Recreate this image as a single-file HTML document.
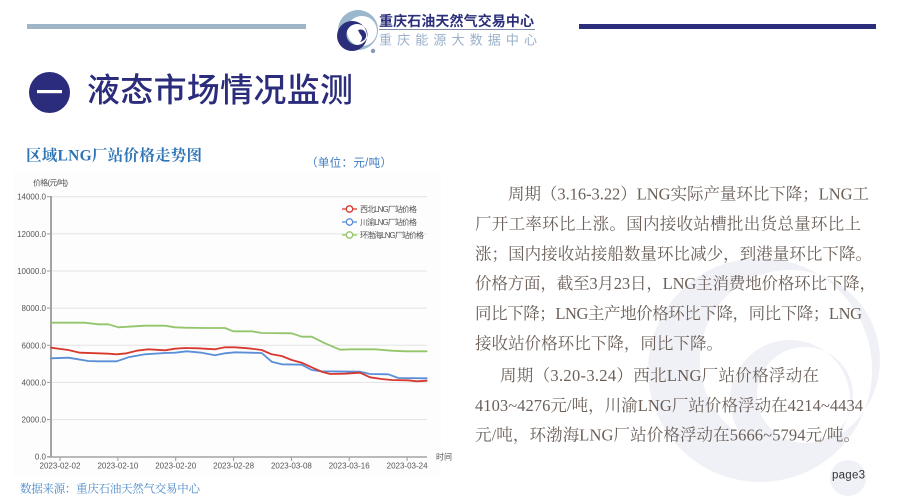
<!DOCTYPE html>
<html>
<head>
<meta charset="utf-8">
<style>
html,body{margin:0;padding:0;background:#fff;}
body{width:900px;height:500px;overflow:hidden;}
svg{display:block;}
.cjk{font-family:"Liberation Sans","Noto Sans CJK SC",sans-serif;}
.ser{font-family:"Liberation Serif","Noto Serif CJK SC",serif;}
.ax{font-family:"Liberation Sans","Noto Sans CJK SC",sans-serif;font-size:8px;fill:#555;}
</style>
</head>
<body>
<svg width="900" height="500" viewBox="0 0 900 500" xmlns="http://www.w3.org/2000/svg">
  <!-- watermark -->
  <g fill="#f0f1f6">
    <path fill-rule="evenodd" d="M760 258 a112 112 0 1 0 0.1 0 Z M790 270 a90 90 0 1 1 -0.1 0 Z"/>
    <path fill-rule="evenodd" d="M790 340 a60 60 0 1 0 0.1 0 Z M805 347 a48 48 0 1 1 -0.1 0 Z"/>
    <circle cx="848" cy="478" r="18"/>
  </g>

  <!-- header bars -->
  <rect x="27" y="24" width="279" height="5" fill="#9fb6c9"/>
  <rect x="579" y="24" width="297" height="5" fill="#2b2e7a"/>

  <!-- logo icon -->
  <g>
    <path fill-rule="evenodd" fill="#9bb7cc" d="M358 10 a20 20 0 1 0 0.1 0 Z M362 16 a15 15 0 1 1 -0.1 0 Z"/>
    <path fill-rule="evenodd" fill="#2b2e7a" d="M352 21 a15 15 0 1 0 0.1 0 Z M357 24 a10.5 10.5 0 1 1 -0.1 0 Z"/>
    <path fill="#2b2e7a" d="M358 30 q6 -2 8 4 q1 6 -6 8 q4 -4 0 -8 z"/>
    <circle cx="373" cy="51" r="2.2" fill="#8a9cb5"/>
  </g>
  <text x="379" y="26" class="cjk" font-size="14" font-weight="bold" fill="#2b2e7a" textLength="155" lengthAdjust="spacing">重庆石油天然气交易中心</text>
  <rect x="379" y="29" width="156" height="1" fill="#7d88aa"/>
  <text x="379" y="44.5" class="cjk" font-size="13" fill="#9ab0c8" textLength="158" lengthAdjust="spacing">重庆能源大数据中心</text>

  <!-- section title -->
  <circle cx="49.5" cy="92.5" r="20.5" fill="#2b2d7c"/>
  <rect x="37" y="90" width="25" height="3.2" fill="#fff"/>
  <text x="87" y="101.5" class="cjk" font-size="33" font-weight="500" fill="#2b2d7c" textLength="266" lengthAdjust="spacing">液态市场情况监测</text>

  <!-- chart title -->
  <text x="26" y="160.5" class="ser" font-size="15.5" font-weight="bold" fill="#2f75b5" textLength="176" lengthAdjust="spacing">区域LNG厂站价格走势图</text>
  <text x="306" y="166.5" class="cjk" font-size="11.5" fill="#3e7cc0" textLength="86" lengthAdjust="spacing">（单位：元/吨）</text>

  <!-- chart bg -->
  <rect x="13" y="171" width="428" height="305" fill="#fdfdfd"/>

  <!-- grid -->
  <g stroke="#e3e3e3" stroke-width="1">
    <line x1="51" y1="196.7" x2="427" y2="196.7"/>
    <line x1="51" y1="233.9" x2="427" y2="233.9"/>
    <line x1="51" y1="271" x2="427" y2="271"/>
    <line x1="51" y1="308.1" x2="427" y2="308.1"/>
    <line x1="51" y1="345.3" x2="427" y2="345.3"/>
    <line x1="51" y1="382.4" x2="427" y2="382.4"/>
    <line x1="51" y1="419.6" x2="427" y2="419.6"/>
  </g>
  <!-- y ticks -->
  <g stroke="#999" stroke-width="1">
    <line x1="47" y1="196.7" x2="51" y2="196.7"/>
    <line x1="47" y1="233.9" x2="51" y2="233.9"/>
    <line x1="47" y1="271" x2="51" y2="271"/>
    <line x1="47" y1="308.1" x2="51" y2="308.1"/>
    <line x1="47" y1="345.3" x2="51" y2="345.3"/>
    <line x1="47" y1="382.4" x2="51" y2="382.4"/>
    <line x1="47" y1="419.6" x2="51" y2="419.6"/>
    <line x1="47" y1="456.7" x2="51" y2="456.7"/>
  </g>
  <!-- x ticks -->
  <g stroke="#999" stroke-width="1">
    <line x1="60" y1="457" x2="60" y2="461"/>
    <line x1="117.9" y1="457" x2="117.9" y2="461"/>
    <line x1="175.7" y1="457" x2="175.7" y2="461"/>
    <line x1="233.6" y1="457" x2="233.6" y2="461"/>
    <line x1="291.4" y1="457" x2="291.4" y2="461"/>
    <line x1="349.2" y1="457" x2="349.2" y2="461"/>
    <line x1="407.1" y1="457" x2="407.1" y2="461"/>
  </g>
  <!-- axes -->
  <line x1="51" y1="196" x2="51" y2="457.5" stroke="#a3a3a3" stroke-width="2"/>
  <line x1="47" y1="457" x2="427" y2="457" stroke="#a3a3a3" stroke-width="1.5"/>

  <!-- y labels -->
  <g class="ax" text-anchor="end">
    <text x="46" y="199.7">14000.0</text>
    <text x="46" y="236.9">12000.0</text>
    <text x="46" y="274">10000.0</text>
    <text x="46" y="311.1">8000.0</text>
    <text x="46" y="348.3">6000.0</text>
    <text x="46" y="385.4">4000.0</text>
    <text x="46" y="422.6">2000.0</text>
    <text x="46" y="459.7">0.0</text>
  </g>
  <text x="33" y="185.5" class="ax" textLength="35" lengthAdjust="spacing">价格(元/吨)</text>
  <text x="436" y="459.5" class="ax">时间</text>

  <!-- x labels -->
  <g class="ax" text-anchor="middle">
    <text x="60" y="468.5">2023-02-02</text>
    <text x="117.9" y="468.5">2023-02-10</text>
    <text x="175.7" y="468.5">2023-02-20</text>
    <text x="233.6" y="468.5">2023-02-28</text>
    <text x="291.4" y="468.5">2023-03-08</text>
    <text x="349.2" y="468.5">2023-03-16</text>
    <text x="407.1" y="468.5">2023-03-24</text>
  </g>

  <!-- series -->
  <g fill="none" stroke-width="1.8" stroke-linejoin="round" stroke-linecap="round">
    <polyline stroke="#93c56b" points="51,322.7 85,322.7 98.3,324.3 108.3,324.3 118.3,327.3 128.3,326.7 145,325.7 165,325.7 175,327.3 185,327.7 205,328 225,328 233.3,331.3 251.7,331.3 261.7,333 291.7,333.3 301.7,336.7 311.7,336.7 325,343.3 340,349.7 351.7,349.3 375,349.3 391.7,350.7 405,351.3 426.7,351.3"/>
    <polyline stroke="#5a8fd8" points="51,358.3 68.3,357.7 78.3,359.3 88.3,361 98.3,361.3 116.7,361.3 128.3,357.3 145,354.3 165,353 175,352.7 186.7,351.3 201.7,352.7 215,355.3 225,353.3 235,352.3 261.7,353 271.7,361.7 281.7,364.3 301.7,364.7 311.7,370 321.7,371.3 360,371.7 370,374 388.3,374.3 398.3,378 426.7,378.3"/>
    <polyline stroke="#d7392f" points="51,347.7 68.3,350 80,352.7 98.3,353.3 108.3,353.7 116.7,354.3 126.7,353.3 136.7,350.7 148.3,349.3 165,350.3 175,348.7 185,348 198.3,348.3 215,349.3 225,347.3 235,347.3 248.3,348.3 261.7,350 271.7,354.3 281.7,356 291.7,360 301.7,362.7 311.7,367.3 321.7,371.7 330,374 345,373.7 360,372.7 370,377.3 381.7,379 391.7,380 408.3,380.3 416.7,381.3 426.7,380.7"/>
  </g>

  <!-- legend -->
  <g stroke-width="1.3">
    <line x1="342" y1="209" x2="357" y2="209" stroke="#d7392f"/>
    <circle cx="349.5" cy="209" r="3.2" fill="#fff" stroke="#d7392f"/>
    <line x1="342" y1="222" x2="357" y2="222" stroke="#5a8fd8"/>
    <circle cx="349.5" cy="222" r="3.2" fill="#fff" stroke="#5a8fd8"/>
    <line x1="342" y1="235" x2="357" y2="235" stroke="#93c56b"/>
    <circle cx="349.5" cy="235" r="3.2" fill="#fff" stroke="#93c56b"/>
  </g>
  <g class="ax">
    <text x="360" y="212" textLength="57" lengthAdjust="spacing">西北LNG厂站价格</text>
    <text x="360" y="225" textLength="57" lengthAdjust="spacing">川渝LNG厂站价格</text>
    <text x="360" y="238" textLength="64" lengthAdjust="spacing">环渤海LNG厂站价格</text>
  </g>

  <!-- data source -->
  <text x="20" y="492.5" class="ser" font-size="11.5" fill="#4a88c8" textLength="180" lengthAdjust="spacing">数据来源：重庆石油天然气交易中心</text>

  <!-- right text -->
  <g class="ser" font-size="16.5" fill="#6b5f58">
    <text x="508" y="199.5" textLength="361" lengthAdjust="spacing">周期（3.16-3.22）LNG实际产量环比下降；LNG工</text>
    <text x="475" y="229.5" textLength="386" lengthAdjust="spacing">厂开工率环比上涨。国内接收站槽批出货总量环比上</text>
    <text x="475" y="259.3" textLength="397" lengthAdjust="spacing">涨；国内接收站接船数量环比减少，到港量环比下降。</text>
    <text x="475" y="289.1" textLength="401" lengthAdjust="spacing">价格方面，截至3月23日，LNG主消费地价格环比下降，</text>
    <text x="475" y="319" textLength="387" lengthAdjust="spacing">同比下降；LNG主产地价格环比下降，同比下降；LNG</text>
    <text x="475" y="348.8" textLength="248" lengthAdjust="spacing">接收站价格环比下降，同比下降。</text>
    <text x="500" y="380.8" textLength="319" lengthAdjust="spacing">周期（3.20-3.24）西北LNG厂站价格浮动在</text>
    <text x="475" y="410.8" textLength="388" lengthAdjust="spacing">4103~4276元/吨，川渝LNG厂站价格浮动在4214~4434</text>
    <text x="475" y="440.3" textLength="385" lengthAdjust="spacing">元/吨，环渤海LNG厂站价格浮动在5666~5794元/吨。</text>
  </g>

  <!-- page number -->
  <text x="832" y="478.5" font-family="Liberation Sans, sans-serif" font-size="11.5" fill="#333" textLength="33" lengthAdjust="spacing">page3</text>
</svg>
</body>
</html>
